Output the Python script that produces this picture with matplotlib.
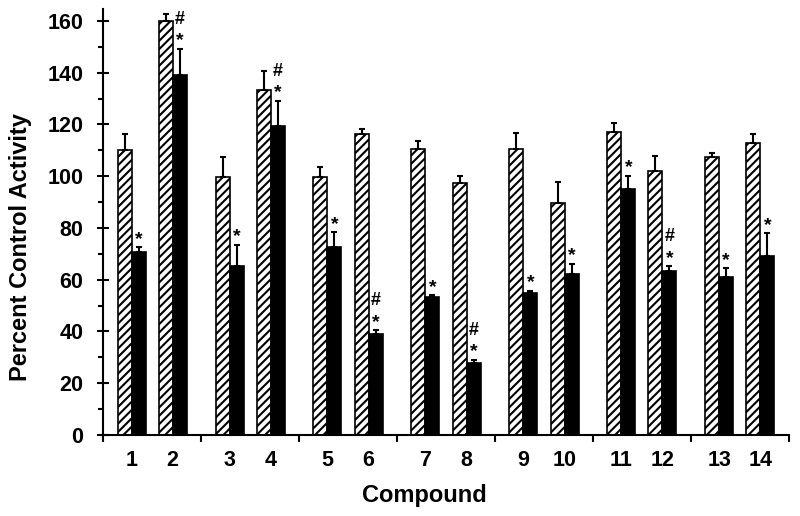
import matplotlib
matplotlib.use('Agg')
import matplotlib.pyplot as plt
import numpy as np

plt.rcParams['font.family'] = ['Liberation Sans', 'DejaVu Sans']
plt.rcParams['font.weight'] = 'bold'
plt.rcParams['hatch.linewidth'] = 1.5

# data
compounds = ['1', '2', '3', '4', '5', '6', '7', '8', '9', '10', '11', '12', '13', '14']
hatched = [110.1, 160.1, 99.6, 133.3, 99.7, 116.3, 110.4, 97.5, 110.4, 89.5, 117.1, 102.1, 107.6, 112.7]
hatched_err = [6.2, 2.6, 8.0, 7.4, 4.0, 2.1, 3.1, 2.7, 6.2, 8.4, 3.4, 5.7, 1.5, 3.6]
black = [70.8, 138.9, 65.3, 119.4, 72.8, 39.0, 53.5, 27.9, 54.8, 62.2, 95.1, 63.4, 61.2, 69.3]
black_err = [1.8, 10.3, 8.2, 9.8, 5.5, 1.5, 0.5, 1.1, 1.0, 3.9, 5.1, 1.7, 3.2, 8.7]
marks = ['*', '#*', '*', '#*', '*', '#*', '*', '#*', '*', '*', '*', '#*', '*', '*']

n = len(compounds)
groups = np.arange(n) // 2
side = np.where(np.arange(n) % 2 == 0, -0.21, 0.21)
pos = groups + 0.5 + side
w = 0.143

fig = plt.figure(figsize=(8, 5.16), dpi=100)
ax = fig.add_axes([0.129, 0.157, 0.857, 0.8256])

ax.bar(pos - w / 2, hatched, w, color='white', edgecolor='black', hatch='////', linewidth=1.2, zorder=2)
ax.bar(pos + w / 2, black, w, color='black', edgecolor='black', linewidth=1.2, zorder=2)
ax.errorbar(pos - w / 2, hatched, yerr=[np.zeros(n), hatched_err], fmt='none', ecolor='black',
            elinewidth=1.5, capsize=2.5, capthick=1.5, zorder=3)
ax.errorbar(pos + w / 2, black, yerr=[np.zeros(n), black_err], fmt='none', ecolor='black',
            elinewidth=1.5, capsize=2.5, capthick=1.5, zorder=3)

# significance marks above the black bars
for x, v, e, m in zip(pos + w / 2, black, black_err, marks):
    ax.annotate('*', (x, v + e), xytext=(0, 2.5), textcoords='offset points',
                ha='center', va='baseline', fontsize=14, fontweight='bold')
    if '#' in m:
        ax.annotate('#', (x, v + e), xytext=(0, 18), textcoords='offset points',
                    ha='center', va='baseline', fontsize=13, fontweight='bold')

ax.set_xlim(0, 7)
ax.set_ylim(0, 164.6)

ax.spines['top'].set_visible(False)
ax.spines['right'].set_visible(False)
ax.spines['left'].set_linewidth(1.5)
ax.spines['bottom'].set_linewidth(1.5)

ax.set_yticks(np.arange(0, 161, 20))
ax.set_yticks(np.arange(10, 160, 20), minor=True)
ax.tick_params(axis='y', which='major', direction='inout', length=8.5, width=1.5, pad=10, labelsize=15.5)
ax.tick_params(axis='y', which='minor', direction='out', length=3.5, width=1.5)

ax.set_xticks(np.arange(0, 8))
ax.set_xticklabels([])
ax.set_xticks(pos, labels=compounds, minor=True)
ax.tick_params(axis='x', which='major', direction='out', length=5, width=1.5)
ax.tick_params(axis='x', which='minor', length=0, pad=11, labelsize=15.5)

for lab in ax.get_xticklabels(minor=True) + ax.get_yticklabels():
    lab.set_fontweight('bold')

ax.set_xlabel('Compound', fontsize=17, fontweight='bold')
ax.set_ylabel('Percent Control Activity', fontsize=17, fontweight='bold')
ax.xaxis.set_label_coords(0.468, -0.115)
ax.yaxis.set_label_coords(-0.104, 0.44)

fig.savefig('out.png', dpi=100)
